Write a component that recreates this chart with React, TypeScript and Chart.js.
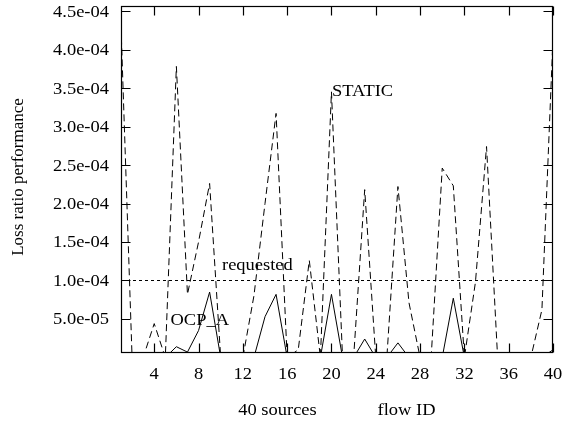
import React, { useEffect, useRef } from "react";
import { Chart, registerables } from "chart.js";

Chart.register(...registerables);

const flowIds = [1, 2, 3, 4, 5, 6, 7, 8, 9, 10, 11, 12, 13, 14, 15, 16, 17, 18, 19, 20, 21, 22, 23, 24, 25, 26, 27, 28, 29, 30, 31, 32, 33, 34, 35, 36, 37, 38, 39, 40];

const staticLoss = [
  4.3e-4, 0, 0, 4.4e-5, 0, 3.78e-4, 8.2e-5, 1.5e-4, 2.26e-4, 0,
  0, 0, 8.0e-5, 2.0e-4, 3.17e-4, 0, 1.0e-5, 1.26e-4, 0, 3.45e-4,
  0, 0, 2.18e-4, 0, 0, 2.22e-4, 7.1e-5, 0, 0, 2.46e-4,
  2.23e-4, 0, 9.8e-5, 2.74e-4, 0, 0, 0, 0, 6.2e-5, 4.15e-4,
];

const ocpALoss = [
  0, 0, 0, 0, 0, 1.4e-5, 7e-6, 3.5e-5, 8.5e-5, 0,
  0, 0, 0, 5.3e-5, 8.2e-5, 0, 0, 0, 0, 8.2e-5,
  0, 0, 2.4e-5, 0, 0, 1.9e-5, 0, 0, 0, 0,
  7.7e-5, 0, 0, 0, 0, 0, 0, 0, 0, 1.0e-5,
];

const requestedLevel = 1.0e-4;

const xTickValues = [4, 8, 12, 16, 20, 24, 28, 32, 36, 40];
const yTickValues = [5e-5, 1e-4, 1.5e-4, 2e-4, 2.5e-4, 3e-4, 3.5e-4, 4e-4, 4.5e-4];

const yMin = 5.84e-6;
const yMax = 4.565e-4;

const FONT = '"Liberation Serif", "Times New Roman", serif';
const STRETCH = 1.12;

function fmtExp(v: number): string {
  const [m, e] = v.toExponential(1).split("e");
  const sign = e.startsWith("-") ? "-" : "+";
  const digits = e.replace(/[-+]/, "").padStart(2, "0");
  return `${m}e${sign}${digits}`;
}

function drawText(
  ctx: CanvasRenderingContext2D,
  text: string,
  x: number,
  y: number,
  align: CanvasTextAlign,
  size = 16.5
) {
  ctx.save();
  ctx.translate(x, y);
  ctx.scale(STRETCH, 1);
  ctx.font = `${size}px ${FONT}`;
  ctx.fillStyle = "#000";
  ctx.textAlign = align;
  ctx.textBaseline = "alphabetic";
  ctx.fillText(text, 0, 0);
  ctx.restore();
}

const framePlugin = {
  id: "gnuplotFrame",
  afterDraw(chart: any) {
    const ctx: CanvasRenderingContext2D = chart.ctx;
    const { left, right, top, bottom } = chart.chartArea;
    const xs = chart.scales.x;
    const ys = chart.scales.y;
    const L = Math.round(left) + 0.5;
    const R = Math.round(right) - 0.5;
    const T = Math.round(top) + 0.5;
    const B = Math.round(bottom) - 0.5;
    const tick = 9;
    ctx.save();
    ctx.strokeStyle = "#000";
    ctx.lineWidth = 1.2;
    ctx.setLineDash([]);
    ctx.strokeRect(L, T, R - L, B - T);
    ctx.beginPath();
    for (const v of xTickValues) {
      const px = Math.round(xs.getPixelForValue(v)) + 0.5;
      ctx.moveTo(px, B);
      ctx.lineTo(px, B - tick);
      ctx.moveTo(px, T);
      ctx.lineTo(px, T + tick);
    }
    for (const v of yTickValues) {
      const py = Math.round(ys.getPixelForValue(v)) + 0.5;
      ctx.moveTo(L, py);
      ctx.lineTo(L + tick, py);
      ctx.moveTo(R, py);
      ctx.lineTo(R - tick, py);
    }
    ctx.stroke();
    ctx.restore();

    // tick labels
    for (const v of xTickValues) {
      drawText(ctx, String(v), xs.getPixelForValue(v), 379, "center");
    }
    for (const v of yTickValues) {
      drawText(ctx, fmtExp(v), 109, ys.getPixelForValue(v) + 5.5, "right");
    }

    // axis titles
    drawText(ctx, "40 sources", 277.5, 415, "center");
    drawText(ctx, "flow ID", 406.5, 415, "center");
    ctx.save();
    ctx.translate(23, 177);
    ctx.rotate(-Math.PI / 2);
    ctx.font = `17px ${FONT}`;
    ctx.fillStyle = "#000";
    ctx.textAlign = "center";
    ctx.textBaseline = "alphabetic";
    ctx.fillText("Loss ratio performance", 0, 0);
    ctx.restore();

    // curve labels
    drawText(ctx, "STATIC", 332, 95.5, "left");
    drawText(ctx, "requested", 222, 270, "left");
    drawText(ctx, "OCP_A", 170.5, 325, "left");
  },
};

export default function App() {
  const canvasRef = useRef<HTMLCanvasElement | null>(null);

  useEffect(() => {
    document.body.style.margin = "0";
    const canvas = canvasRef.current;
    if (!canvas) return;
    const chart = new Chart(canvas, {
      type: "line",
      data: {
        datasets: [
          {
            label: "STATIC",
            data: flowIds.map((id, i) => ({ x: id, y: staticLoss[i] })),
            borderColor: "#000",
            borderWidth: 1,
            borderDash: [7, 4],
            pointRadius: 0,
            tension: 0,
            fill: false,
            clip: 0,
          },
          {
            label: "OCP_A",
            data: flowIds.map((id, i) => ({ x: id, y: ocpALoss[i] })),
            borderColor: "#000",
            borderWidth: 1,
            pointRadius: 0,
            tension: 0,
            fill: false,
            clip: 0,
          },
          {
            label: "requested",
            data: [
              { x: flowIds[0], y: requestedLevel },
              { x: flowIds[flowIds.length - 1], y: requestedLevel },
            ],
            borderColor: "#000",
            borderWidth: 1,
            borderDash: [3, 3],
            pointRadius: 0,
            tension: 0,
            fill: false,
            clip: 0,
          },
        ],
      },
      options: {
        animation: false,
        responsive: false,
        devicePixelRatio: 1,
        layout: { padding: { left: 0, right: 12, top: 6, bottom: 0 } },
        plugins: {
          legend: { display: false },
          tooltip: { enabled: false },
          title: { display: false },
        },
        scales: {
          x: {
            type: "linear",
            min: 1,
            max: 40,
            grid: { display: false },
            border: { display: false },
            ticks: { display: false },
            afterBuildTicks: (scale: any) => {
              scale.ticks = xTickValues.map((v) => ({ value: v }));
            },
            afterFit: (scale: any) => {
              scale.height = 68;
            },
          },
          y: {
            type: "linear",
            min: yMin,
            max: yMax,
            grid: { display: false },
            border: { display: false },
            ticks: { display: false },
            afterBuildTicks: (scale: any) => {
              scale.ticks = yTickValues.map((v) => ({ value: v }));
            },
            afterFit: (scale: any) => {
              scale.width = 121;
            },
          },
        },
      },
      plugins: [framePlugin],
    });
    return () => chart.destroy();
  }, []);

  return (
    <div style={{ position: "absolute", left: 0, top: 0, width: 565, height: 421, background: "#fff" }}>
      <canvas ref={canvasRef} width={565} height={421} />
    </div>
  );
}
